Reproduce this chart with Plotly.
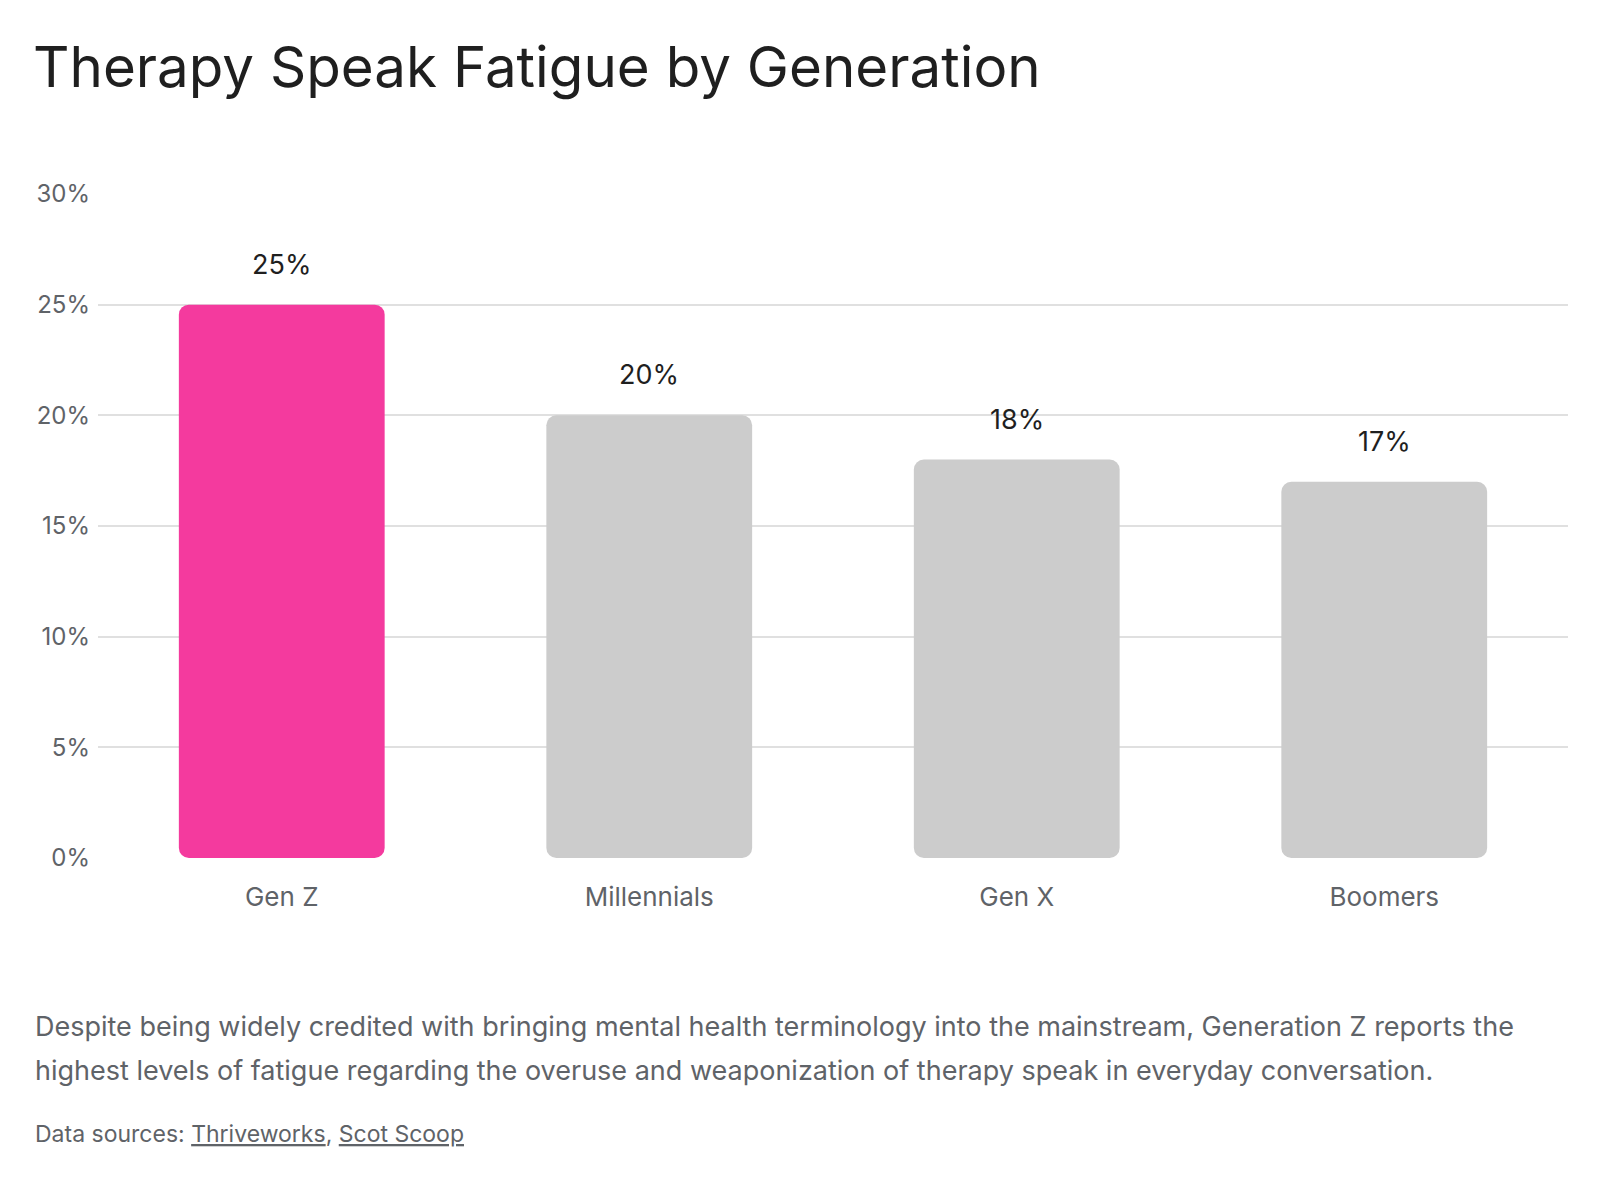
import plotly.graph_objects as go

categories = ["Gen Z", "Millennials", "Gen X", "Boomers"]
values = [25, 20, 18, 17]
value_labels = ["25%", "20%", "18%", "17%"]
highlight = "Gen Z"
y_ticks = [0, 5, 10, 15, 20, 25, 30]
y_tick_labels = ["0%", "5%", "10%", "15%", "20%", "25%", "30%"]

title = "Therapy Speak Fatigue by Generation"
description_lines = [
    "Despite being widely credited with bringing mental health terminology into the mainstream, Generation Z reports the",
    "highest levels of fatigue regarding the overuse and weaponization of therapy speak in everyday conversation.",
]
sources = "Data sources: <u>Thriveworks</u>, <u>Scot Scoop</u>"

PINK = "#F43A9E"
GREY = "#CCCCCC"
FONT = "Inter, sans-serif"

colors = [PINK if c == highlight else GREY for c in categories]

fig = go.Figure()
fig.add_trace(go.Bar(
    x=categories, y=values, base=[0 for v in values],
    marker=dict(color=colors, line=dict(width=0)), hoverinfo="skip", showlegend=False,
))

for c, v, lab in zip(categories, values, value_labels):
    fig.add_annotation(x=c, y=v, text=lab, showarrow=False, yanchor="bottom", yshift=22,
                       font=dict(family=FONT, size=27, color="#1f1f1f"))

fig.update_layout(
    width=1600, height=1200,
    paper_bgcolor="white", plot_bgcolor="white",
    margin=dict(l=98, r=32, t=194, b=342),
    barmode="overlay", bargap=0.44, barcornerradius=10,
    font=dict(family=FONT, color="#5f6368"),
    title=dict(text=title, x=33 / 1600, xanchor="left", y=1 - 67 / 1200, yanchor="middle",
               font=dict(family=FONT, size=56.5, color="#1f1f1f")),
    xaxis=dict(showgrid=False, showline=False, ticks="", ticklabelstandoff=21,
               tickfont=dict(family=FONT, size=26, color="#5f6368")),
    yaxis=dict(range=[0, 30], tickvals=y_ticks, ticktext=y_tick_labels,
               showgrid=True, gridcolor="#e0e0e0", gridwidth=2, zeroline=False,
               showline=False, ticks="", ticklabelstandoff=7,
               tickfont=dict(family=FONT, size=24, color="#5f6368")),
)

for i, line in enumerate(description_lines):
    fig.add_annotation(xref="paper", yref="paper", x=-65 / 1470, y=-(1026 + 44 * i - 858) / 664,
                       xanchor="left", yanchor="middle", align="left", showarrow=False,
                       text=line, font=dict(family=FONT, size=27, color="#5f6368"))
fig.add_annotation(xref="paper", yref="paper", x=-65 / 1470, y=-(1134 - 858) / 664,
                   xanchor="left", yanchor="middle", align="left", showarrow=False,
                   text=sources, font=dict(family=FONT, size=23, color="#5f6368"))

fig.write_html("out.html", config={"displayModeBar": False})
